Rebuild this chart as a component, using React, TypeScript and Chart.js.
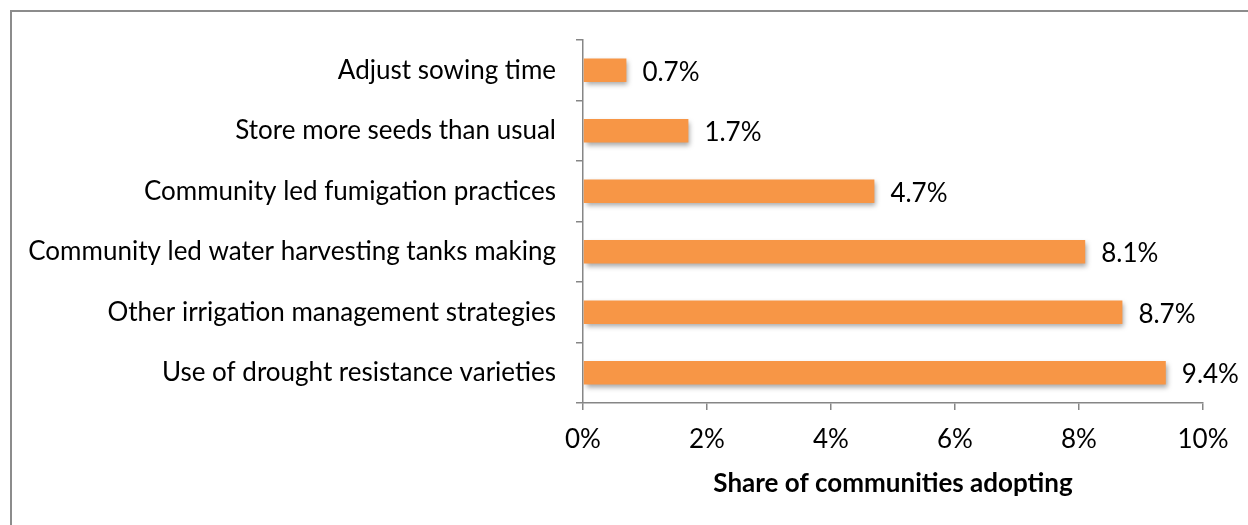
import React, { useEffect, useRef } from "react";
import { Chart, registerables } from "chart.js";

Chart.register(...registerables);

const categories = [
  "Adjust sowing time",
  "Store more seeds than usual",
  "Community led fumigation practices",
  "Community led water harvesting tanks making",
  "Other irrigation management strategies",
  "Use of drought resistance varieties",
];
const values = [0.7, 1.7, 4.7, 8.1, 8.7, 9.4];
const xTicks = [0, 2, 4, 6, 8, 10];
const axisTitle = "Share of communities adopting";

const FONT = "Lato, Carlito, Calibri, sans-serif";
const AXIS_COLOR = "#868686";
const FS = 26;

export default function App() {
  const ref = useRef<HTMLCanvasElement | null>(null);

  useEffect(() => {
    if (!ref.current) return;
    const frame = {
      id: "frame",
      beforeDraw(chart: any) {
        const c = chart.ctx;
        c.save();
        c.fillStyle = "#ffffff";
        c.fillRect(0, 0, chart.width, chart.height);
        c.strokeStyle = "#8c8c8c";
        c.lineWidth = 2;
        c.beginPath();
        c.moveTo(11, chart.height + 5);
        c.lineTo(11, 11);
        c.lineTo(chart.width + 5, 11);
        c.stroke();
        c.restore();
      },
    };
    const shadow = {
      id: "barShadow",
      beforeDatasetDraw(chart: any) {
        const c = chart.ctx;
        c.save();
        c.shadowColor = "rgba(0,0,0,0.35)";
        c.shadowBlur = 5;
        c.shadowOffsetX = 2;
        c.shadowOffsetY = 3;
      },
      afterDatasetDraw(chart: any) {
        chart.ctx.restore();
      },
    };
    const labels = {
      id: "valueLabels",
      afterDatasetsDraw(chart: any) {
        const c = chart.ctx;
        const meta = chart.getDatasetMeta(0);
        c.save();
        c.fillStyle = "#000000";
        c.font = `${FS}px ${FONT}`;
        c.textAlign = "left";
        c.textBaseline = "middle";
        meta.data.forEach((bar: any, i: number) => {
          c.fillText(values[i].toFixed(1) + "%", bar.x + 16, bar.y + 2);
        });
        c.restore();
      },
    };

    const chart = new Chart(ref.current, {
      type: "bar",
      data: {
        labels: categories,
        datasets: [
          {
            data: values,
            backgroundColor: "#F79646",
            borderWidth: 0,
            barPercentage: 0.39,
            categoryPercentage: 1,
          },
        ],
      },
      options: {
        indexAxis: "y",
        animation: false,
        responsive: false,
        devicePixelRatio: 1,
        layout: { padding: { left: 0, top: 40, right: 45, bottom: 26 } },
        plugins: {
          legend: { display: false },
          tooltip: { enabled: false },
        },
        scales: {
          y: {
            offset: true,
            grid: {
              offset: true,
              drawOnChartArea: false,
              drawTicks: true,
              tickLength: 7,
              color: AXIS_COLOR,
              lineWidth: 1.5,
            },
            border: { color: AXIS_COLOR, width: 1.5 },
            ticks: {
              color: "#000000",
              font: { family: FONT, size: FS },
              padding: 20,
            },
            afterFit(scale: any) {
              scale.width = 583;
            },
          },
          x: {
            min: 0,
            max: 10,
            afterBuildTicks(scale: any) {
              scale.ticks = xTicks.map((v) => ({ value: v }));
            },
            grid: {
              drawOnChartArea: false,
              drawTicks: true,
              tickLength: 7,
              color: AXIS_COLOR,
              lineWidth: 1.5,
            },
            border: { color: AXIS_COLOR, width: 1.5 },
            ticks: {
              color: "#000000",
              font: { family: FONT, size: FS },
              padding: 14,
              maxRotation: 0,
              callback: (v: any) => `${v}%`,
            },
            title: {
              display: true,
              text: axisTitle,
              color: "#000000",
              font: { family: FONT, size: FS, weight: "bold" },
              padding: { top: 10, bottom: 0 },
            },
            afterFit(scale: any) {
              scale.height = 525 - 403 - 26;
            },
          },
        },
      },
      plugins: [frame, shadow, labels],
    } as any);
    return () => chart.destroy();
  }, []);

  return (
    <canvas
      ref={ref}
      width={1248}
      height={525}
      style={{ position: "fixed", left: 0, top: 0, width: 1248, height: 525 }}
    />
  );
}
